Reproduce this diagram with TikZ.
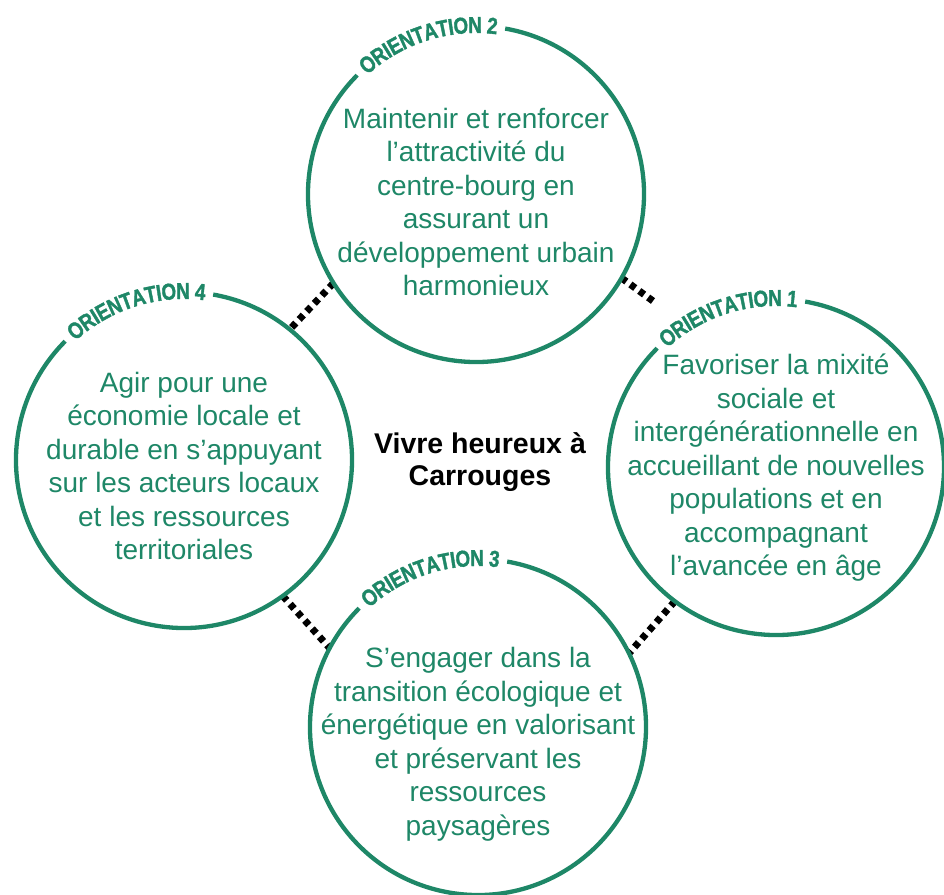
\documentclass[tikz,border=0pt]{standalone}
\usepackage{fontspec}
\setmainfont{Liberation Sans}
\newfontfamily\orifam[FakeStretch=0.82, BoldFeatures={FakeBold=1.5}]{Liberation Sans}
\usetikzlibrary{decorations.text}
\definecolor{oriGreen}{RGB}{30,135,103}
\newcommand\orifont{\orifam\bfseries\fontsize{23}{23}\selectfont}

\begin{document}
\begin{tikzpicture}[x=1pt, y=1pt,
  ring/.style={circle, minimum size=336pt, inner sep=0pt, outer sep=0pt},
  ringline/.style={oriGreen, line width=4.3pt},
  link/.style={black, line width=7pt, dash pattern=on 6pt off 5pt},
  body/.style={align=center, text=oriGreen, font=\fontsize{28}{33.5}\selectfont},
  hub/.style={align=center, font=\bfseries\fontsize{28.5}{32}\selectfont}]

\useasboundingbox (0,0) rectangle (944,-894);

% Place the four orientation circles
\foreach \k/\x/\y in {1/776/-467, 2/476/-194, 3/478/-727, 4/184/-460} {
  \node [ring] (o\k) at (\x,\y) {};
}

% Dotted links between the circles
\coordinate (c21) at (653,-301);
\draw [link] (o2.212) -- (o4.51);
\draw [link] (o2.330) -- (c21);
\draw [link] (o4.306) -- (o3.152);
\draw [link] (o1.233) -- (o3.26);

% Rings, open at the top left for the label
\foreach \k in {1,...,4} {
  \draw [ringline] (o\k.80) arc [start angle=80, end angle=-225, radius=168];
  \path [decorate, decoration={text along path, text align=center, raise=-7pt,
      text color=oriGreen, text/.expanded={|\noexpand\orifont|ORIENTATION \k}}]
    (o\k.150) arc [start angle=150, end angle=65, radius=168];
}

% Texts of the orientations
\node [body] (t1) at ([yshift=-1]o1.center) {Favoriser la mixité\\ sociale et\\ intergénérationnelle en\\ accueillant de nouvelles\\ populations et en\\ accompagnant\\ l’avancée en âge};
\node [body] (t2) at ([yshift=-8]o2.center) {Maintenir et renforcer\\ l’attractivité du\\ centre-bourg en\\ assurant un\\ développement urbain\\ harmonieux};
\node [body] (t3) at ([yshift=-17]o3.center) {S’engager dans la\\ transition écologique et\\ énergétique en valorisant\\ et préservant les\\ ressources\\ paysagères};
\node [body] (t4) at ([yshift=-6]o4.center) {Agir pour une\\ économie locale et\\ durable en s’appuyant\\ sur les acteurs locaux\\ et les ressources\\ territoriales};

% Centre
\node [hub] (hub) at (480,-462) {Vivre heureux à\\ Carrouges};

\end{tikzpicture}
\end{document}
